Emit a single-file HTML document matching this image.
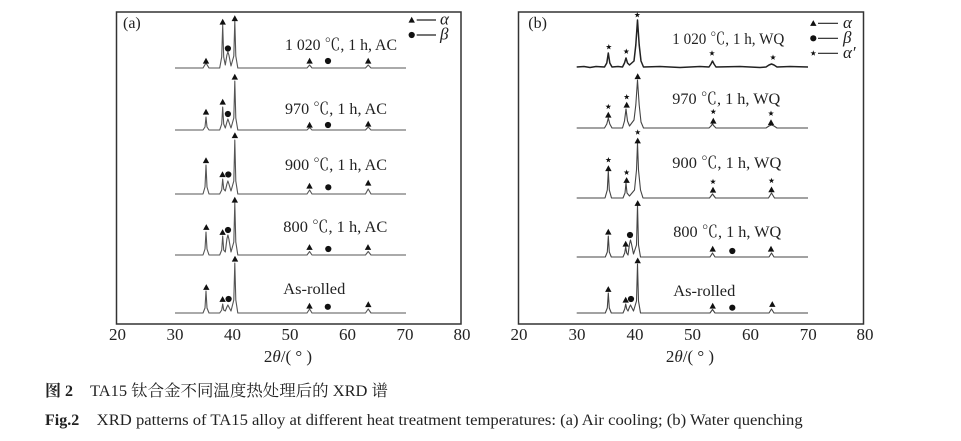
<!DOCTYPE html>
<html><head><meta charset="utf-8"><style>
html,body{margin:0;padding:0;background:#fff;}
svg{display:block;}
text{font-family:"Liberation Serif","Noto Serif CJK SC","Noto Sans CJK SC",serif;fill:#222;}
.cj{font-family:"Liberation Serif","Noto Serif CJK SC","Noto Sans CJK SC",serif;}
</style></head><body>
<svg width="961" height="441" viewBox="0 0 961 441" xmlns="http://www.w3.org/2000/svg">
<defs>
<path id="tri" d="M0,-3.2 L3.2,2.6 L-3.2,2.6 Z" fill="#111"/>
<circle id="cir" cx="0" cy="0" r="3.1" fill="#111"/>
<path id="star" d="M0,-3 L0.705,-0.971 L2.853,-0.927 L1.141,0.371 L1.763,2.427 L0,1.2 L-1.763,2.427 L-1.141,0.371 L-2.853,-0.927 L-0.705,-0.971 Z" fill="#111"/>
</defs>
<rect width="961" height="441" fill="#fff"/>

<!-- Panel boxes -->
<rect x="116.5" y="12" width="344.5" height="312" fill="none" stroke="#333" stroke-width="1.5"/>
<rect x="518.5" y="12" width="345" height="312" fill="none" stroke="#333" stroke-width="1.5"/>

<!-- Left traces -->
<g fill="none" stroke="#555" stroke-width="1.1" stroke-linejoin="round">
<path d="M175,68 L203,68 L206,63 L209,68 L219.7,68 L221.7,57 L222.7,25 L223.7,57 L225.3,65 L226.9,55 L227.9,52 L228.9,55 L231,66 L233.8,56 L234.8,21 L235.8,56 L237.8,68 L307,68 L309.6,65 L312,68 L365.5,68 L368.2,65 L371,68 L406,68"/>
<path d="M175,130 L203,130 L205,127 L206,117 L207,127 L209,130 L219.7,130 L221.7,124 L222.7,107 L223.7,124 L225.3,128 L226.9,122 L227.9,119 L228.9,122 L231,128 L233.8,118 L234.8,81 L235.8,118 L237.8,130 L307,130 L309.6,127.5 L312,130 L365.5,130 L368.2,127 L371,130 L406,130"/>
<path d="M175,194 L203,194 L205,187 L206,165 L207,187 L209,194 L219.7,194 L221.7,190 L222.7,179 L223.7,189 L225.3,191 L226.9,184 L227.9,181 L228.9,184 L231,191 L233.8,181 L234.8,140 L235.8,181 L237.8,194 L307,194 L309.6,190 L312,194 L365.5,194 L368.2,189 L371,194 L406,194"/>
<path d="M175,255 L203,255 L205,249 L206,232 L207,249 L209,255 L219.7,255 L221.7,250 L222.7,236 L223.7,250 L225.3,252 L226.9,239 L227.9,235 L228.9,239 L231,252 L233.8,242 L234.8,203 L235.8,242 L237.8,255 L307,255 L309.6,251.5 L312,255 L365.5,255 L368.2,251.5 L371,255 L406,255"/>
<path d="M175,313 L203,313 L205,308 L206,291 L207,308 L209,313 L219.7,313 L221.7,310 L222.7,304 L223.7,310 L225.3,311 L226.9,307 L227.9,305 L228.9,307 L231,311 L233.8,300 L234.8,263 L235.8,300 L237.8,313 L307,313 L309.6,309 L312,313 L365.5,313 L368.2,309 L371,313 L406,313"/>
</g>

<!-- Right traces -->
<g fill="none" stroke="#444" stroke-width="1.1" stroke-linejoin="round">
<path stroke="#222" stroke-width="1.5" d="M576.7,67 L584,66.5 L590,67.5 L596,66.5 L604.5,67 L606.8,63 L608.3,53 L609.8,63 L612,67 L618,66.5 L622.5,67 L624.5,63 L626,58 L627.5,63 L629.5,65 L634,61 L635.8,45 L637.5,20 L639.2,45 L641,61 L643.5,67 L660,66.5 L680,67.5 L700,66.5 L709,67 L711,64 L712.5,61 L714,64 L716,67 L740,66.5 L760,67.5 L766,67 L769,65 L771.5,64 L774,65 L777,67 L790,66.5 L808,67"/>
<path d="M576.7,128 L604.5,128 L606.8,124 L608.3,118 L609.8,124 L612,128 L622.5,128 L624.5,121 L626,109 L627.5,121 L629.5,126 L634,120 L635.8,105 L637.5,80 L639.2,105 L641,122 L643.5,128 L709,128 L711,126 L712.5,124 L714,126 L716,128 L766,128 L769,126 L771.5,125 L774,126 L777,128 L808,128"/>
<path d="M576.7,198 L605,198 L607.3,190 L608.3,171 L609.3,190 L611.5,198 L623,198 L625,193 L626,183 L627,193 L629.5,196 L634.5,190 L636.5,170 L637.5,143 L638.5,170 L640.5,190 L643,198 L709.5,198 L712.5,194 L715.5,198 L768.5,198 L771.5,193 L774.5,198 L808,198"/>
<path d="M576.7,257 L605.3,257 L607.3,252 L608.3,236 L609.3,252 L611.3,257 L623,257 L624.7,253 L625.7,247 L626.7,253 L628,255 L629.5,244 L630.5,240 L631.5,244 L633.5,254 L636.5,245 L637.5,205 L638.5,245 L640.5,257 L710,257 L712.5,253 L715,257 L769,257 L771.5,253 L774,257 L808,257"/>
<path d="M576.7,313 L605.3,313 L607.3,308 L608.3,293 L609.3,308 L611.3,313 L623,313 L624.7,309 L625.7,304 L626.7,309 L628,311 L629.5,307 L630.5,305 L631.5,307 L633.5,311 L636.5,301 L637.5,264 L638.5,301 L640.5,313 L710,313 L712.5,309.5 L715,313 L769,313 L771.5,309 L774,313 L808,313"/>
</g>

<!-- Left markers -->
<use href="#tri" x="206" y="61"/><use href="#tri" x="222.7" y="22"/><use href="#cir" x="227.9" y="48.5"/><use href="#tri" x="234.8" y="18.5"/><use href="#tri" x="309.6" y="61"/><use href="#cir" x="328" y="61"/><use href="#tri" x="368.2" y="61"/>
<use href="#tri" x="206" y="112"/><use href="#tri" x="222.7" y="102"/><use href="#cir" x="227.9" y="114"/><use href="#tri" x="234.8" y="77"/><use href="#tri" x="309.6" y="125"/><use href="#cir" x="328" y="125"/><use href="#tri" x="368.2" y="124"/>
<use href="#tri" x="206" y="160.5"/><use href="#tri" x="222.5" y="174.5"/><use href="#cir" x="228.3" y="174.5"/><use href="#tri" x="234.9" y="135.5"/><use href="#tri" x="309.5" y="186"/><use href="#cir" x="328.3" y="187.3"/><use href="#tri" x="368.2" y="183"/>
<use href="#tri" x="206.3" y="227.3"/><use href="#tri" x="222.6" y="232.3"/><use href="#cir" x="228" y="230"/><use href="#tri" x="234.8" y="200"/><use href="#tri" x="309.5" y="247.3"/><use href="#cir" x="328.3" y="249"/><use href="#tri" x="368" y="247.3"/>
<use href="#tri" x="206.3" y="287.3"/><use href="#tri" x="222.6" y="299.3"/><use href="#cir" x="228.6" y="299"/><use href="#tri" x="235" y="259"/><use href="#tri" x="309.5" y="306"/><use href="#cir" x="327.8" y="306.8"/><use href="#tri" x="368.3" y="304.5"/>

<!-- Right markers -->
<use href="#star" x="608.8" y="47"/><use href="#star" x="626.3" y="51.5"/><use href="#star" x="637.3" y="15"/><use href="#star" x="712" y="53.3"/><use href="#star" x="773" y="57.5"/>
<use href="#star" x="608.3" y="106.7"/><use href="#tri" x="608.3" y="115"/><use href="#star" x="626.7" y="97"/><use href="#tri" x="626.7" y="105"/><use href="#tri" x="637.7" y="76.5"/><use href="#star" x="713.3" y="111.7"/><use href="#tri" x="713.3" y="121"/><use href="#star" x="771" y="113.5"/><use href="#tri" x="771" y="122.5"/>
<use href="#star" x="608.4" y="160"/><use href="#tri" x="608.4" y="168.5"/><use href="#star" x="626.6" y="172.5"/><use href="#tri" x="626.6" y="180.3"/><use href="#star" x="637.7" y="132.3"/><use href="#tri" x="637.7" y="140.8"/><use href="#star" x="713" y="181.7"/><use href="#tri" x="713" y="190"/><use href="#star" x="771.5" y="180.7"/><use href="#tri" x="771.5" y="189.7"/>
<use href="#tri" x="608.3" y="232"/><use href="#tri" x="625.7" y="244"/><use href="#cir" x="630" y="235"/><use href="#tri" x="637.7" y="203.3"/><use href="#tri" x="712.7" y="249"/><use href="#cir" x="732.3" y="251"/><use href="#tri" x="771" y="249"/>
<use href="#tri" x="608.3" y="289.3"/><use href="#tri" x="625.7" y="300"/><use href="#cir" x="631" y="299"/><use href="#tri" x="637.7" y="260.7"/><use href="#tri" x="712.7" y="306"/><use href="#cir" x="732.3" y="307.7"/><use href="#tri" x="772.3" y="304.3"/>

<!-- Legends -->
<use href="#tri" x="411.7" y="20"/><line x1="416.7" y1="20" x2="436" y2="20" stroke="#222" stroke-width="1.2"/>
<text x="440" y="24.5" font-size="17" font-style="italic">α</text>
<use href="#cir" x="411.7" y="35"/><line x1="416.7" y1="35" x2="436" y2="35" stroke="#222" stroke-width="1.2"/>
<text x="440" y="39.5" font-size="17" font-style="italic">β</text>

<use href="#tri" x="813.3" y="23.3"/><line x1="818" y1="23.3" x2="838" y2="23.3" stroke="#222" stroke-width="1.2"/>
<text x="843" y="28" font-size="17" font-style="italic">α</text>
<use href="#cir" x="813.3" y="38.3"/><line x1="818" y1="38.3" x2="838" y2="38.3" stroke="#222" stroke-width="1.2"/>
<text x="843" y="43" font-size="17" font-style="italic">β</text>
<use href="#star" x="813.3" y="53.3"/><line x1="818" y1="53.3" x2="838" y2="53.3" stroke="#222" stroke-width="1.2"/>
<text x="843" y="58" font-size="17" font-style="italic">α′</text>

<!-- Panel letters -->
<text x="123" y="28" font-size="16">(a)</text>
<text x="528.3" y="28" font-size="16">(b)</text>

<!-- Curve labels -->
<g font-size="16">
<text x="285" y="50" textLength="112" lengthAdjust="spacingAndGlyphs">1 020 ℃, 1 h, AC</text>
<text x="285" y="114" textLength="102" lengthAdjust="spacingAndGlyphs">970 ℃, 1 h, AC</text>
<text x="285" y="170" textLength="102" lengthAdjust="spacingAndGlyphs">900 ℃, 1 h, AC</text>
<text x="283.3" y="232" textLength="104" lengthAdjust="spacingAndGlyphs">800 ℃, 1 h, AC</text>
<text x="283.3" y="294" textLength="62" lengthAdjust="spacingAndGlyphs">As-rolled</text>

<text x="672.3" y="44" textLength="112" lengthAdjust="spacingAndGlyphs">1 020 ℃, 1 h, WQ</text>
<text x="672.3" y="104" textLength="108" lengthAdjust="spacingAndGlyphs">970 ℃, 1 h, WQ</text>
<text x="672.3" y="168" textLength="109" lengthAdjust="spacingAndGlyphs">900 ℃, 1 h, WQ</text>
<text x="673.3" y="237" textLength="108" lengthAdjust="spacingAndGlyphs">800 ℃, 1 h, WQ</text>
<text x="673.3" y="296" textLength="62" lengthAdjust="spacingAndGlyphs">As-rolled</text>
</g>

<!-- Tick labels -->
<g font-size="17" text-anchor="middle">
<text x="117.5" y="340">20</text><text x="175" y="340">30</text><text x="232.5" y="340">40</text><text x="290" y="340">50</text><text x="347.5" y="340">60</text><text x="405" y="340">70</text><text x="462" y="340">80</text>
<text x="519" y="340">20</text><text x="577" y="340">30</text><text x="635" y="340">40</text><text x="692.5" y="340">50</text><text x="750.5" y="340">60</text><text x="808.3" y="340">70</text><text x="865" y="340">80</text>
</g>

<!-- Axis titles -->
<text x="288" y="362" font-size="17" text-anchor="middle">2<tspan font-style="italic">θ</tspan>/( ° )</text>
<text x="690" y="362" font-size="17" text-anchor="middle">2<tspan font-style="italic">θ</tspan>/( ° )</text>

<!-- Caption -->
<text x="45" y="396" font-size="16" font-weight="bold" class="cj">图 2</text>
<text x="90" y="396" font-size="16" class="cj" textLength="298" lengthAdjust="spacingAndGlyphs">TA15 钛合金不同温度热处理后的 XRD 谱</text>
<text x="45" y="425" font-size="16" font-weight="bold">Fig.2</text>
<text x="96.7" y="425" font-size="16" textLength="706" lengthAdjust="spacingAndGlyphs">XRD patterns of TA15 alloy at different heat treatment temperatures: (a) Air cooling; (b) Water quenching</text>
</svg>
</body></html>
